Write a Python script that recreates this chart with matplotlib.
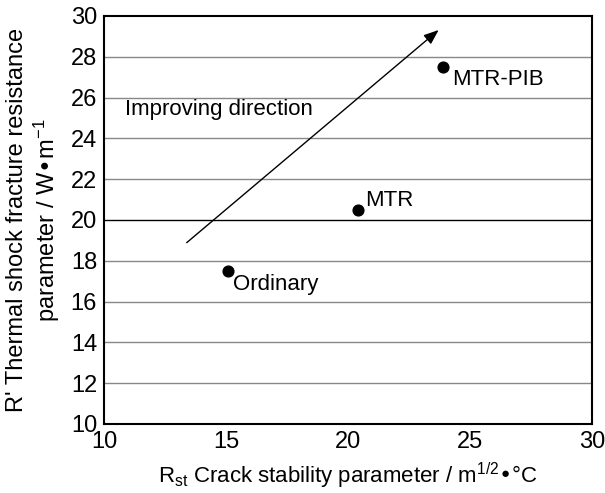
import matplotlib
matplotlib.use("Agg")
import matplotlib.pyplot as plt
from matplotlib import font_manager

plt.rcParams['font.family'] = ['Liberation Sans', 'DejaVu Sans']
available = {f.name for f in font_manager.fontManager.ttflist}
narrow = 'Liberation Sans Narrow' if 'Liberation Sans Narrow' in available else 'Liberation Sans'

names = ["Ordinary", "MTR", "MTR-PIB"]
rst = [15.1, 20.4, 23.9]
rprime = [17.5, 20.5, 27.5]
label_offsets = [(0.2, -0.65), (0.3, 0.45), (0.35, -0.6)]
arrow_start = (13.3, 18.8)
arrow_end = (23.8, 29.4)

fig = plt.figure(figsize=(6.05, 4.93), dpi=100)
ax = fig.add_axes([0.172, 0.140, 0.8066, 0.8276])
ax.set_xlim(10, 30)
ax.set_ylim(10, 30)
ax.set_xticks([10, 15, 20, 25, 30])
ax.set_yticks(range(10, 31, 2))
for y in range(12, 30, 2):
    ax.axhline(y, color='black' if y == 20 else '#888888', lw=1.0, zorder=1)
ax.tick_params(length=0, labelsize=17, pad=5)
for lab in ax.get_xticklabels() + ax.get_yticklabels():
    lab.set_family([narrow, 'DejaVu Sans'])
for s in ax.spines.values():
    s.set_linewidth(1.5)

ax.scatter(rst, rprime, s=60, color='black', zorder=3)
for n, x, y, (dx, dy) in zip(names, rst, rprime, label_offsets):
    ax.text(x + dx, y + dy, n, fontsize=16, va='center', ha='left')

ax.annotate('', xy=arrow_end, xytext=arrow_start,
            arrowprops=dict(arrowstyle='-|>,head_length=0.9,head_width=0.35', color='black', lw=1.0))
ax.text(10.85, 25.4, "Improving direction", fontsize=16, va='center', ha='left')

ax.set_xlabel(r"R$\mathregular{_{st}}$ Crack stability parameter / m$\mathregular{^{1/2}}$•°C", fontsize=16, labelpad=6)
ax.set_ylabel("R' Thermal shock fracture resistance\nparameter / W•m$\\mathregular{^{-1}}$", fontsize=17, labelpad=6)

fig.savefig("out.png", dpi=100)
